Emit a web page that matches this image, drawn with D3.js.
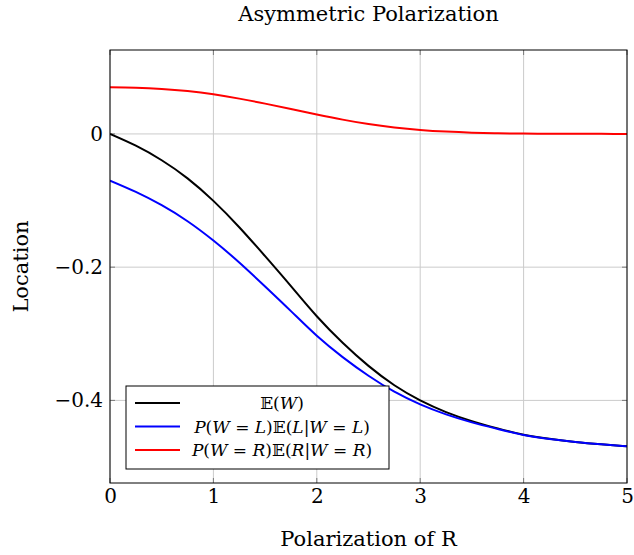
<!DOCTYPE html>
<html>
<head>
<meta charset="utf-8">
<script src="https://cdn.jsdelivr.net/npm/d3@7"></script>
<style>
  body { margin: 0; background: #fff; }
  text { font-family: "DejaVu Serif", "Liberation Serif", serif; fill: #000; }
</style>
</head>
<body>
<script>
// values
var polarization = [0, 0.25, 0.5, 0.75, 1, 1.25, 1.5, 1.75, 2, 2.25, 2.5, 2.75, 3, 3.25, 3.5, 3.75, 4, 4.25, 4.5, 4.75, 5];
var expW = [0, -0.0177, -0.0395, -0.0667, -0.1005, -0.140, -0.1835, -0.2285, -0.2737, -0.3135, -0.3482, -0.3773, -0.400, -0.4175, -0.4311, -0.442, -0.4515, -0.4577, -0.4623, -0.4659, -0.469];
var leftPart = [-0.070, -0.087, -0.107, -0.131, -0.160, -0.193, -0.229, -0.266, -0.303, -0.335, -0.363, -0.387, -0.406, -0.421, -0.433, -0.443, -0.452, -0.458, -0.4625, -0.466, -0.469];
var rightPart = [0.070, 0.0693, 0.0675, 0.0643, 0.0595, 0.053, 0.0455, 0.0375, 0.0293, 0.0215, 0.0148, 0.0097, 0.006, 0.0035, 0.0019, 0.001, 0.0005, 0.0003, 0.0002, 0.0001, 0];
var xTicks = [0, 1, 2, 3, 4, 5];
var yTicks = [0, -0.2, -0.4];

var W = 634, H = 555;
var margin = {top: 50, right: 7, bottom: 72, left: 110};
var width = W - margin.left - margin.right;
var height = H - margin.top - margin.bottom;

var svg = d3.select("body").append("svg")
    .attr("width", W)
    .attr("height", H);

var g = svg.append("g")
    .attr("transform", "translate(" + margin.left + "," + margin.top + ")");

var x = d3.scaleLinear().domain([0, 5]).range([0, width]);
var y = d3.scaleLinear().domain([-0.524, 0.126]).range([height, 0]);

// grid
g.selectAll(".gx").data(xTicks).enter().append("line")
  .attr("x1", d => x(d)).attr("x2", d => x(d))
  .attr("y1", 0).attr("y2", height)
  .attr("stroke", "#cbcbcb").attr("stroke-width", 1);
g.selectAll(".gy").data(yTicks).enter().append("line")
  .attr("x1", 0).attr("x2", width)
  .attr("y1", d => y(d)).attr("y2", d => y(d))
  .attr("stroke", "#cbcbcb").attr("stroke-width", 1);

// inner tick marks
var tk = 5;
g.selectAll(".tb").data(xTicks).enter().append("path")
  .attr("d", d => "M" + x(d) + "," + height + "v" + (-tk) + "M" + x(d) + ",0v" + tk)
  .attr("stroke", "#7a7a7a").attr("stroke-width", 1);
g.selectAll(".tl").data(yTicks).enter().append("path")
  .attr("d", d => "M0," + y(d) + "h" + tk + "M" + width + "," + y(d) + "h" + (-tk))
  .attr("stroke", "#7a7a7a").attr("stroke-width", 1);

// tick labels via d3 axes (no tick lines)
var fmt = d => d === 0 ? "0" : ("\u2212" + Math.abs(d).toFixed(1));
var xAxis = g.append("g")
  .attr("transform", "translate(0," + height + ")")
  .call(d3.axisBottom(x).tickValues(xTicks).tickSize(0).tickPadding(6).tickFormat(d3.format("d")));
var yAxis = g.append("g")
  .call(d3.axisLeft(y).tickValues(yTicks).tickSize(0).tickPadding(7).tickFormat(fmt));
[xAxis, yAxis].forEach(a => {
  a.select(".domain").remove();
  a.selectAll("text").attr("font-size", 20).attr("font-family", "DejaVu Serif, serif").attr("fill", "#000");
});

// curves
var line = d3.line()
  .x((d, i) => x(polarization[i]))
  .y(d => y(d))
  .curve(d3.curveNatural);

var series = [
  {name: "expW", values: expW, color: "#000000"},
  {name: "left", values: leftPart, color: "#0000ff"},
  {name: "right", values: rightPart, color: "#ff0000"}
];

g.append("clipPath").attr("id", "clip")
  .append("rect").attr("width", width).attr("height", height);

g.selectAll(".curve").data(series).enter().append("path")
  .attr("clip-path", "url(#clip)")
  .attr("fill", "none")
  .attr("stroke", d => d.color)
  .attr("stroke-width", 2)
  .attr("d", d => line(d.values));

// frame
g.append("rect")
  .attr("width", width).attr("height", height)
  .attr("fill", "none").attr("stroke", "#000").attr("stroke-width", 1);

// title and axis titles
svg.append("text")
  .attr("x", margin.left + width / 2).attr("y", 21)
  .attr("text-anchor", "middle").attr("font-size", 21)
  .text("Asymmetric Polarization");
svg.append("text")
  .attr("x", margin.left + width / 2).attr("y", 546)
  .attr("text-anchor", "middle").attr("font-size", 21)
  .text("Polarization of R");
svg.append("text")
  .attr("transform", "translate(28," + (margin.top + height / 2) + ") rotate(-90)")
  .attr("text-anchor", "middle").attr("font-size", 21)
  .text("Location");

// legend
var legend = svg.append("g").attr("transform", "translate(126,386)");
legend.append("rect")
  .attr("width", 263).attr("height", 83)
  .attr("fill", "#fff").attr("stroke", "#000").attr("stroke-width", 1);

function parts(kind) {
  if (kind === "expW") return [["\u{1D53C}(", false], ["W", true], [")", false]];
  var v = kind === "left" ? "L" : "R";
  return [["P", true], ["(", false], ["W", true], [" = ", false], [v, true], [")\u{1D53C}(", false],
          [v, true], ["|", false], ["W", true], [" = ", false], [v, true], [")", false]];
}

var rows = legend.selectAll(".row").data(series).enter().append("g")
  .attr("transform", (d, i) => "translate(0," + (17 + i * 23.5) + ")");
rows.append("line")
  .attr("x1", 9).attr("x2", 54).attr("y1", 0).attr("y2", 0)
  .attr("stroke", d => d.color).attr("stroke-width", 2);
rows.append("text")
  .attr("x", 156).attr("y", 6)
  .attr("text-anchor", "middle").attr("font-size", 17)
  .each(function(d) {
    var t = d3.select(this);
    parts(d.name).forEach(p => {
      t.append("tspan").text(p[0]).attr("font-style", p[1] ? "italic" : "normal");
    });
  });
</script>
</body>
</html>
